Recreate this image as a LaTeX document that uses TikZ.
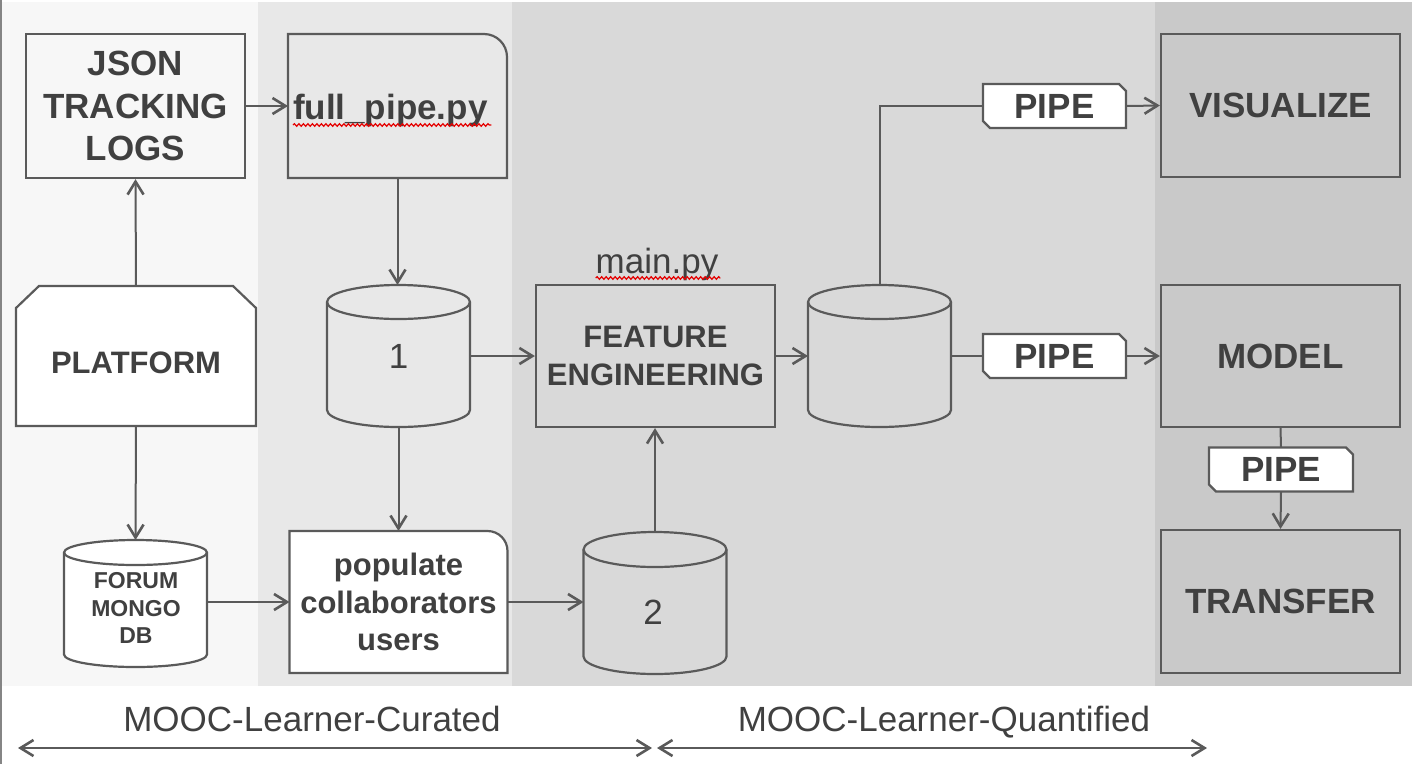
\documentclass[tikz,border=0pt]{standalone}
\usepackage{fontspec}
\setmainfont{Liberation Sans}
\usetikzlibrary{arrows.meta,decorations.pathmorphing,calc}
\pgfdeclarelayer{bands}
\pgfdeclarelayer{shapes}
\pgfsetlayers{bands,shapes,main}
\definecolor{lc}{HTML}{5A5A5A}
\definecolor{tc}{HTML}{404040}
\definecolor{bA}{HTML}{F7F7F7}
\definecolor{bB}{HTML}{E8E8E8}
\definecolor{bC}{HTML}{D9D9D9}
\definecolor{bD}{HTML}{C9C9C9}
\definecolor{edgec}{HTML}{858585}
\newcommand\fBig{\fontsize{35}{42.5}\selectfont\bfseries}
\newcommand\fMid{\fontsize{31}{37.5}\selectfont\bfseries}
\newcommand\fSm{\fontsize{23}{27.5}\selectfont\bfseries}
\newcommand\fReg{\fontsize{35}{42}\selectfont}
\tikzset{
  shp/.style={draw=lc, line width=2.2pt, line join=miter},
  boxn/.style={shp, align=center, text=tc, font=\fBig, inner sep=0pt},
  plainn/.style={inner sep=0pt, outer sep=0pt, align=center, text=tc},
  txt/.style={inner sep=0pt, outer sep=0pt, align=center, text=tc},
  tipA/.tip={Straight Barb[length=13pt,width=16pt,line width=2.6pt]},
  conn/.style={draw=lc, line width=2pt, -tipA},
  biconn/.style={draw=lc, line width=2pt, tipA-tipA},
  link/.style={draw=lc, line width=2pt},
  spell/.style={draw=red!90!black, line width=1.2pt, decorate, decoration={snake,amplitude=1.3pt,segment length=4.5pt}},
}
% cylinder outline drawn around a named rectangle node: name, half width, ry, fill
\newcommand\drawcyl[4]{%
  \draw[shp, fill=#4] ([yshift=-#3pt]#1.north west) -- ([yshift=#3pt]#1.south west)
     arc[start angle=180, end angle=360, x radius=#2pt, y radius=#3pt]
     -- ([yshift=-#3pt]#1.north east)
     arc[start angle=0, end angle=180, x radius=#2pt, y radius=#3pt] -- cycle;
  \draw[shp] ([yshift=-#3pt]#1.north west)
     arc[start angle=180, end angle=360, x radius=#2pt, y radius=#3pt];}
% box with a rounded top right corner: name, radius, fill
\newcommand\drawdoc[3]{%
  \draw[shp, fill=#3] (#1.south west) -- (#1.north west) -- ([xshift=-#2pt]#1.north east)
     .. controls ([xshift=-0.448*#2pt]#1.north east) and ([yshift=-0.448*#2pt]#1.north east) ..
     ([yshift=-#2pt]#1.north east) -- (#1.south east) -- cycle;}
% pipe tag with two cut corners
\newcommand\drawtag[1]{%
  \draw[shp, fill=white] (#1.south east) -- ([yshift=-7pt]#1.north east) -- ([xshift=-7pt]#1.north east)
     -- (#1.north west) -- ([yshift=7pt]#1.south west) -- ([xshift=7pt]#1.south west) -- cycle;}
\begin{document}
\begin{tikzpicture}[x=1pt,y=-1pt]
\useasboundingbox (0,0) rectangle (1412,764);
\begin{pgfonlayer}{bands}
  \fill[white] (0,0) rectangle (1412,764);
  \fill[bA] (0,2) rectangle (258,686);
  \fill[bB] (258,2) rectangle (512,686);
  \fill[bC] (512,2) rectangle (1155,686);
  \fill[bD] (1155,2) rectangle (1412,686);
  \draw[edgec, line width=2pt] (1,0) -- (1,764);
\end{pgfonlayer}

% nodes
\node[boxn, fill=bA, minimum width=219pt, minimum height=144pt] (json) at (135.5,106) {JSON\\TRACKING\\LOGS};
\node[plainn, minimum width=219pt, minimum height=144pt] (fp) at (397.5,106) {};
\node[txt, font=\fBig, anchor=base west] (fpt) at (293,119) {full\_pipe.py};
\node[plainn, minimum width=240pt, minimum height=140pt] (plat) at (136,356) {};
\node[txt, font=\fontsize{31}{37}\selectfont\bfseries] (platt) at (136,363) {PLATFORM};
\node[plainn, minimum width=143pt, minimum height=127pt] (forum) at (135.5,603.5) {};
\node[txt, font=\fSm] (forumt) at (136,608) {FORUM\\MONGO\\DB};
\node[plainn, font=\fMid, minimum width=218pt, minimum height=142pt] (pop) at (398.5,602) {populate\\collaborators\\users};
\node[plainn, font=\fReg, minimum width=143pt, minimum height=142pt] (c1) at (398.5,356) {1};
\node[plainn, minimum width=143pt, minimum height=142pt] (c2) at (655,603) {};
\node[txt, font=\fReg] (c2t) at (653,612) {2};
\node[boxn, fill=bC, font=\fMid, minimum width=239pt, minimum height=142pt] (fe) at (655.5,356) {FEATURE\\ENGINEERING};
\node[txt, font=\fReg, anchor=base] (mainpy) at (657,273) {main.py};
\node[plainn, minimum width=143pt, minimum height=142pt] (c3) at (879.5,356) {};
\node[plainn, font=\fBig, minimum width=143pt, minimum height=44pt] (pipe1) at (1054.5,106) {PIPE};
\node[plainn, font=\fBig, minimum width=143pt, minimum height=44pt] (pipe2) at (1054.5,356) {PIPE};
\node[plainn, font=\fBig, minimum width=144pt, minimum height=44pt] (pipe3) at (1281,469.5) {PIPE};
\node[boxn, fill=bD, minimum width=239pt, minimum height=143pt] (vis) at (1280.5,105.5) {VISUALIZE};
\node[boxn, fill=bD, minimum width=239pt, minimum height=142pt] (model) at (1280.5,356) {MODEL};
\node[boxn, fill=bD, minimum width=239pt, minimum height=143pt] (transfer) at (1280.5,601.5) {TRANSFER};
\node[txt, font=\fReg, anchor=base] (cur) at (312,731) {MOOC-Learner-Curated};
\node[txt, font=\fReg, anchor=base] (quant) at (944,731) {MOOC-Learner-Quantified};
\coordinate (l1) at (18,748);
\coordinate (l2) at (652,748);
\coordinate (r1) at (657,748);
\coordinate (r2) at (1207,748);

% shapes behind the texts
\begin{pgfonlayer}{shapes}
  \drawdoc{fp}{23}{bB}
  \drawdoc{pop}{20}{white}
  \draw[shp, fill=white] (plat.south west) -- ([yshift=-22pt]plat.north west) -- ([xshift=23pt]plat.north west)
     -- ([xshift=-23pt]plat.north east) -- ([yshift=-22pt]plat.north east) -- (plat.south east) -- cycle;
  \drawcyl{forum}{71.5}{12.5}{white}
  \drawcyl{c1}{71.5}{17}{bB}
  \drawcyl{c2}{71.5}{17.5}{bC}
  \drawcyl{c3}{71.5}{17}{bC}
  \drawtag{pipe1}
  \drawtag{pipe2}
  \drawtag{pipe3}
\end{pgfonlayer}

% spell-check underlines
\draw[spell] ([yshift=-6pt]fpt.base west) -- ([yshift=-6pt,xshift=4pt]fpt.base east);
\draw[spell] ([yshift=-5pt]mainpy.base west) -- ([yshift=-5pt,xshift=2pt]mainpy.base east);

% connectors
\draw[conn] (json.east) -- (fp.west);
\draw[conn] (plat.north) -- (json.south);
\draw[conn] (plat.south) -- (forum.north);
\draw[conn] (fp.south) -- (fp.south |- c1.north);
\draw[conn] (c1.south) -- (c1.south |- pop.north);
\draw[conn] (forum.east |- pop.west) -- (pop.west);
\draw[conn] (pop.east) -- (pop.east -| c2.west);
\draw[conn] (c2.north) -- (c2.north |- fe.south);
\draw[conn] (c1.east) -- (fe.west);
\draw[conn] (fe.east) -- (c3.west);
\draw[link] (c3.north) |- (pipe1.west);
\draw[conn] (pipe1.east) -- (vis.west);
\draw[link] (c3.east) -- (pipe2.west);
\draw[conn] (pipe2.east) -- (model.west);
\draw[link] (model.south) -- (pipe3.north);
\draw[conn] (pipe3.south) -- (transfer.north);
\draw[biconn] (l1) -- (l2);
\draw[biconn] (r1) -- (r2);
\end{tikzpicture}
\end{document}
